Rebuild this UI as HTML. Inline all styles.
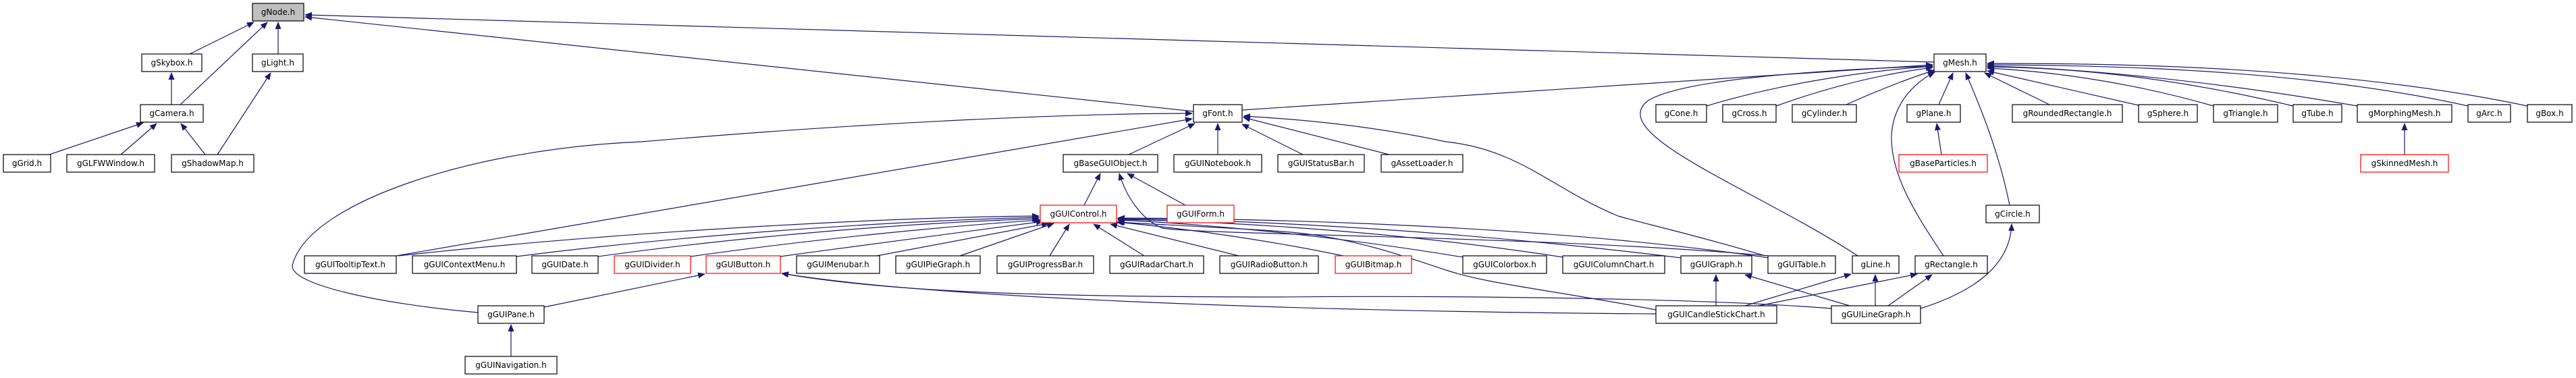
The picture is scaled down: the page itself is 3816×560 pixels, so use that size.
<!DOCTYPE html>
<html><head><meta charset="utf-8"><style>
html,body{margin:0;padding:0;background:#fff;}
svg{display:block;}
text{font-family:"DejaVu Sans","Liberation Sans",sans-serif;font-size:12px;fill:#000;text-anchor:middle;}
.b{fill:#fff;stroke:#000;stroke-width:1.2;}
.r{fill:#fff;stroke:#ff0000;stroke-width:1.2;}
.e{fill:none;stroke:#191970;stroke-width:1.2;marker-end:url(#a);}
</style></head><body>
<svg width="3816" height="560" viewBox="0 0 3816 560" xmlns="http://www.w3.org/2000/svg">
<defs><marker id="a" markerUnits="userSpaceOnUse" markerWidth="11" markerHeight="9" refX="10" refY="4.5" orient="auto" viewBox="0 0 11 9"><path d="M0,0 L11,4.5 L0,9 z" fill="#191970"/></marker></defs>
<g>
<path class="e" d="M281,80 L376,33"/>
<path class="e" d="M267,155 L396,33"/>
<path class="e" d="M412,80 L412,33"/>
<path class="e" d="M254,155 L254,108"/>
<path class="e" d="M73,229 L212,182"/>
<path class="e" d="M179,229 L232,183"/>
<path class="e" d="M304,229 L268,183"/>
<path class="e" d="M322,229 L401,108"/>
<path class="e" d="M2865,92 L452,22"/>
<path class="e" d="M1768,165 L452,25"/>
<path class="e" d="M1840,163 L2863,96"/>
<path class="e" d="M708,463 C560,450 420,420 434,390 C460,300 700,220 950,210 C1300,180 1600,168 1766,168"/>
<path class="e" d="M587,379 L1766,176"/>
<path class="e" d="M590,379 C900,345 1300,322 1539,320"/>
<path class="e" d="M765,380 C1000,350 1300,328 1539,322"/>
<path class="e" d="M886,380 C1100,350 1350,330 1539,324"/>
<path class="e" d="M1023,380 C1200,355 1400,335 1541,326"/>
<path class="e" d="M1156,380 C1300,360 1450,340 1545,328"/>
<path class="e" d="M1299,379 L1553,331"/>
<path class="e" d="M1422,379 L1561,331"/>
<path class="e" d="M1555,379 L1584,332"/>
<path class="e" d="M1695,379 L1620,332"/>
<path class="e" d="M1835,379 L1645,332"/>
<path class="e" d="M1990,379 C1850,350 1720,335 1654,329"/>
<path class="e" d="M2167,381 C1950,345 1750,330 1656,326"/>
<path class="e" d="M2315,381 C2050,340 1800,328 1656,325"/>
<path class="e" d="M2490,382 C2150,340 1850,326 1656,324"/>
<path class="e" d="M2620,382 C2300,335 1900,324 1656,323"/>
<path class="e" d="M2453,459 C2300,430 2200,420 2142,400 C2080,380 2000,350 1900,343 C1800,336 1700,332 1656,329"/>
<path class="e" d="M1672,229 L1770,183"/>
<path class="e" d="M1804,229 L1804,183"/>
<path class="e" d="M1930,229 L1840,184"/>
<path class="e" d="M2058,229 L1842,174"/>
<path class="e" d="M1606,304 L1630,257"/>
<path class="e" d="M1756,304 L1670,257"/>
<path class="e" d="M2620,379 C2300,350 1780,348 1722,338 C1690,325 1668,290 1658,257"/>
<path class="e" d="M2615,379 C2500,345 2430,330 2397,320 C2300,280 2250,221 2142,210 C2050,190 1950,178 1842,172"/>
<path class="e" d="M806,455 L1044,406"/>
<path class="e" d="M757,528 L757,481"/>
<path class="e" d="M2453,465 C2000,462 1400,445 1158,405"/>
<path class="e" d="M2713,457 C2500,440 2100,438 1900,440 C1500,440 1300,430 1158,405"/>
<path class="e" d="M2542,453 L2542,407"/>
<path class="e" d="M2740,453 L2585,407"/>
<path class="e" d="M2585,453 L2742,406"/>
<path class="e" d="M2778,453 L2778,407"/>
<path class="e" d="M2605,453 L2840,406"/>
<path class="e" d="M2797,453 L2862,407"/>
<path class="e" d="M2845,457 C2930,430 2978,390 2980,332"/>
<path class="e" d="M2528,157 C2650,120 2780,104 2863,98"/>
<path class="e" d="M2631,157 C2720,125 2800,108 2863,100"/>
<path class="e" d="M2735,155 C2790,130 2840,112 2866,104"/>
<path class="e" d="M2872,155 L2893,108"/>
<path class="e" d="M2752,379 C2600,280 2380,200 2440,150 C2500,110 2800,100 2863,98"/>
<path class="e" d="M2879,379 C2840,320 2800,260 2802,200 C2805,150 2840,120 2866,107"/>
<path class="e" d="M2977,304 C2960,220 2930,150 2912,108"/>
<path class="e" d="M3036,155 L2940,108"/>
<path class="e" d="M3168,156 L2944,105"/>
<path class="e" d="M3279,157 C3150,120 3030,105 2944,101"/>
<path class="e" d="M3397,157 C3200,110 3050,100 2944,99"/>
<path class="e" d="M3492,157 C3250,115 3050,100 2944,98"/>
<path class="e" d="M3656,157 C3400,100 3100,97 2944,96"/>
<path class="e" d="M3744,157 C3450,95 3100,94 2944,94"/>
<path class="e" d="M2876,229 L2869,183"/>
<path class="e" d="M3562,229 L3562,183"/>
</g>
<g>
<rect x="374" y="5" width="76" height="26" fill="#bfbfbf" stroke="#000" stroke-width="1.2"/><text x="412" y="22">gNode.h</text>
<rect class="b" x="210" y="80" width="89" height="26"/><text x="254.5" y="97">gSkybox.h</text>
<rect class="b" x="374" y="80" width="75" height="26"/><text x="411.5" y="97">gLight.h</text>
<rect class="b" x="2865" y="80" width="77" height="26"/><text x="2903.5" y="97">gMesh.h</text>
<rect class="b" x="208" y="155" width="93" height="26"/><text x="254.5" y="172">gCamera.h</text>
<rect class="b" x="1768" y="155" width="72" height="26"/><text x="1804" y="172">gFont.h</text>
<rect class="b" x="2453" y="155" width="75" height="26"/><text x="2490.5" y="172">gCone.h</text>
<rect class="b" x="2552" y="155" width="79" height="26"/><text x="2591.5" y="172">gCross.h</text>
<rect class="b" x="2655" y="155" width="95" height="26"/><text x="2702.5" y="172">gCylinder.h</text>
<rect class="b" x="2825" y="155" width="79" height="26"/><text x="2864.5" y="172">gPlane.h</text>
<rect class="b" x="2981" y="155" width="163" height="26"/><text x="3062.5" y="172">gRoundedRectangle.h</text>
<rect class="b" x="3168" y="155" width="87" height="26"/><text x="3211.5" y="172">gSphere.h</text>
<rect class="b" x="3279" y="155" width="95" height="26"/><text x="3326.5" y="172">gTriangle.h</text>
<rect class="b" x="3397" y="155" width="72" height="26"/><text x="3433" y="172">gTube.h</text>
<rect class="b" x="3492" y="155" width="140" height="26"/><text x="3562" y="172">gMorphingMesh.h</text>
<rect class="b" x="3656" y="155" width="63" height="26"/><text x="3687.5" y="172">gArc.h</text>
<rect class="b" x="3744" y="155" width="66" height="26"/><text x="3777" y="172">gBox.h</text>
<rect class="b" x="5" y="229" width="70" height="26"/><text x="40" y="246">gGrid.h</text>
<rect class="b" x="99" y="229" width="130" height="26"/><text x="164" y="246">gGLFWWindow.h</text>
<rect class="b" x="254" y="229" width="122" height="26"/><text x="315" y="246">gShadowMap.h</text>
<rect class="b" x="1575" y="229" width="140" height="26"/><text x="1645" y="246">gBaseGUIObject.h</text>
<rect class="b" x="1739" y="229" width="130" height="26"/><text x="1804" y="246">gGUINotebook.h</text>
<rect class="b" x="1893" y="229" width="128" height="26"/><text x="1957" y="246">gGUIStatusBar.h</text>
<rect class="b" x="2046" y="229" width="121" height="26"/><text x="2106.5" y="246">gAssetLoader.h</text>
<rect class="r" x="2813" y="229" width="131" height="26"/><text x="2878.5" y="246">gBaseParticles.h</text>
<rect class="r" x="3497" y="229" width="130" height="26"/><text x="3562" y="246">gSkinnedMesh.h</text>
<rect class="r" x="1541" y="304" width="113" height="26"/><text x="1597.5" y="321">gGUIControl.h</text>
<rect class="r" x="1729" y="304" width="99" height="26"/><text x="1778.5" y="321">gGUIForm.h</text>
<rect class="b" x="2942" y="304" width="79" height="26"/><text x="2981.5" y="321">gCircle.h</text>
<rect class="b" x="451" y="379" width="136" height="26"/><text x="519" y="396">gGUITooltipText.h</text>
<rect class="b" x="611" y="379" width="154" height="26"/><text x="688" y="396">gGUIContextMenu.h</text>
<rect class="b" x="788" y="379" width="98" height="26"/><text x="837" y="396">gGUIDate.h</text>
<rect class="r" x="910" y="379" width="113" height="26"/><text x="966.5" y="396">gGUIDivider.h</text>
<rect class="r" x="1046" y="379" width="110" height="26"/><text x="1101" y="396">gGUIButton.h</text>
<rect class="b" x="1180" y="379" width="123" height="26"/><text x="1241.5" y="396">gGUIMenubar.h</text>
<rect class="b" x="1327" y="379" width="125" height="26"/><text x="1389.5" y="396">gGUIPieGraph.h</text>
<rect class="b" x="1477" y="379" width="143" height="26"/><text x="1548.5" y="396">gGUIProgressBar.h</text>
<rect class="b" x="1644" y="379" width="139" height="26"/><text x="1713.5" y="396">gGUIRadarChart.h</text>
<rect class="b" x="1807" y="379" width="146" height="26"/><text x="1880" y="396">gGUIRadioButton.h</text>
<rect class="r" x="1978" y="379" width="113" height="26"/><text x="2034.5" y="396">gGUIBitmap.h</text>
<rect class="b" x="2167" y="379" width="124" height="26"/><text x="2229" y="396">gGUIColorbox.h</text>
<rect class="b" x="2315" y="379" width="151" height="26"/><text x="2390.5" y="396">gGUIColumnChart.h</text>
<rect class="b" x="2490" y="379" width="105" height="26"/><text x="2542.5" y="396">gGUIGraph.h</text>
<rect class="b" x="2619" y="379" width="100" height="26"/><text x="2669" y="396">gGUITable.h</text>
<rect class="b" x="2744" y="379" width="69" height="26"/><text x="2778.5" y="396">gLine.h</text>
<rect class="b" x="2837" y="379" width="107" height="26"/><text x="2890.5" y="396">gRectangle.h</text>
<rect class="b" x="708" y="453" width="98" height="26"/><text x="757" y="470">gGUIPane.h</text>
<rect class="b" x="2453" y="453" width="179" height="26"/><text x="2542.5" y="470">gGUICandleStickChart.h</text>
<rect class="b" x="2713" y="453" width="132" height="26"/><text x="2779" y="470">gGUILineGraph.h</text>
<rect class="b" x="689" y="528" width="136" height="26"/><text x="757" y="545">gGUINavigation.h</text>
</g>
</svg>
</body></html>
